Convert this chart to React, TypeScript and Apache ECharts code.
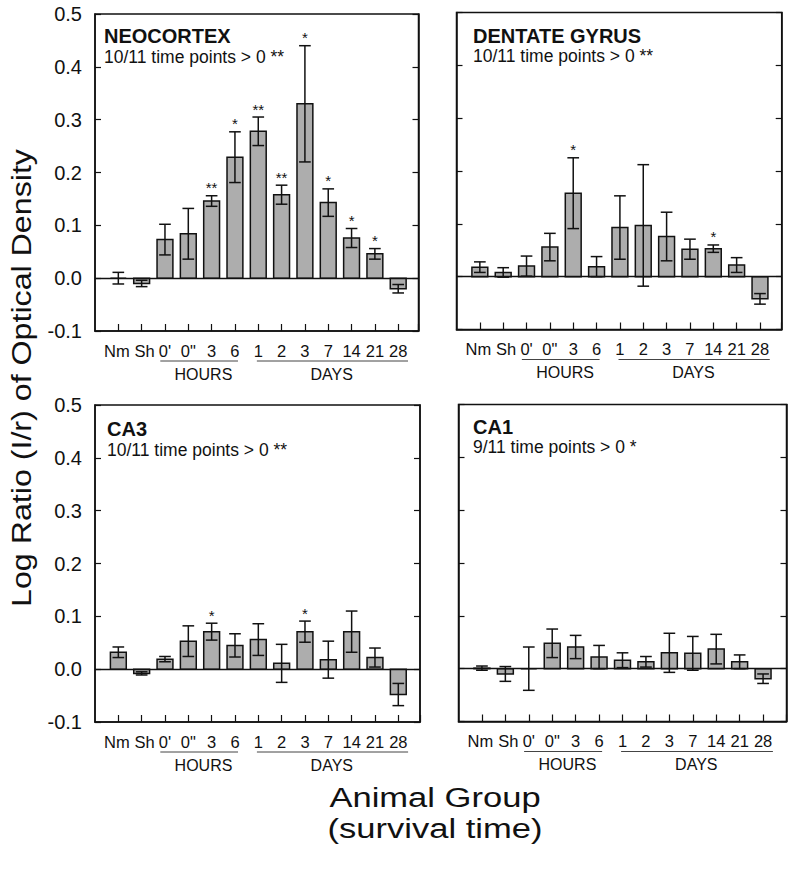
import React, { useEffect, useRef } from "react";
import * as echarts from "echarts";

// ---------------- data ----------------
const categories = ["Nm", "Sh", "0'", "0\"", "3", "6", "1", "2", "3", "7", "14", "21", "28"];

const panelTitles = ["NEOCORTEX", "DENTATE GYRUS", "CA3", "CA1"];
const panelNotes = [
  "10/11 time points > 0 **",
  "10/11 time points > 0 **",
  "10/11 time points > 0 **",
  "9/11 time points > 0 *",
];

const neoMean = [0.0, -0.01, 0.073, 0.084, 0.146, 0.229, 0.278, 0.158, 0.33, 0.143, 0.076, 0.046, -0.02];
const neoErr = [0.011, 0.006, 0.029, 0.048, 0.01, 0.048, 0.027, 0.018, 0.11, 0.026, 0.018, 0.01, 0.008];
const neoSig = ["", "", "", "", "**", "*", "**", "**", "*", "*", "*", "*", ""];

const dgMean = [0.018, 0.008, 0.02, 0.056, 0.158, 0.019, 0.093, 0.097, 0.076, 0.052, 0.053, 0.022, -0.042];
const dgErr = [0.01, 0.009, 0.019, 0.026, 0.067, 0.019, 0.06, 0.115, 0.046, 0.019, 0.007, 0.014, 0.01];
const dgSig = ["", "", "", "", "*", "", "", "", "", "", "*", "", ""];

const ca3Mean = [0.032, -0.008, 0.019, 0.053, 0.071, 0.045, 0.056, 0.011, 0.071, 0.018, 0.071, 0.022, -0.048];
const ca3Err = [0.01, 0.003, 0.005, 0.029, 0.016, 0.022, 0.03, 0.036, 0.02, 0.035, 0.039, 0.018, 0.021];
const ca3Sig = ["", "", "", "", "*", "", "", "", "*", "", "", "", ""];

const ca1Mean = [0.001, -0.01, 0.0, 0.048, 0.041, 0.022, 0.016, 0.013, 0.03, 0.029, 0.037, 0.013, -0.019];
const ca1Err = [0.004, 0.014, 0.041, 0.027, 0.022, 0.022, 0.014, 0.01, 0.037, 0.032, 0.028, 0.013, 0.009];
const ca1Sig = ["", "", "", "", "", "", "", "", "", "", "", "", ""];

const yMin = -0.1;
const yMax = 0.5;
const yStep = 0.1;

const timeGroups = [
  { name: "HOURS", lineFrom: 2.8, lineTo: 6.13, labelAt: 4.65 },
  { name: "DAYS", lineFrom: 6.94, lineTo: 13.42, labelAt: 10.15 },
];

// ---------------- layout ----------------
const FONT = "'Liberation Sans', Arial, Helvetica, sans-serif";
const panels = [
  { mean: neoMean, err: neoErr, sig: neoSig, left: 95, top: 14, width: 323.5, xMax: 13.87, labels: true, tx: 104, ty: 36, sy: 57 },
  { mean: dgMean, err: dgErr, sig: dgSig, left: 456.5, top: 12.5, width: 325.2, xMax: 13.93, labels: false, tx: 473, ty: 36, sy: 56 },
  { mean: ca3Mean, err: ca3Err, sig: ca3Sig, left: 95, top: 405, width: 325, xMax: 13.93, labels: true, tx: 107, ty: 429, sy: 450 },
  { mean: ca1Mean, err: ca1Err, sig: ca1Sig, left: 458.5, top: 404.5, width: 328, xMax: 14, labels: false, tx: 473, ty: 427, sy: 447 },
];
const GRID_H = 317;
const INK = "#111";

export default function App() {
  const ref = useRef<HTMLDivElement>(null);

  useEffect(() => {
    document.body.style.margin = "0";
    if (!ref.current) return;
    const chart = echarts.init(ref.current, null, { renderer: "svg" });

    const grid = panels.map((p) => ({
      left: p.left,
      top: p.top,
      width: p.width,
      height: GRID_H,
      show: true,
      borderColor: INK,
      borderWidth: 1.5,
      backgroundColor: "transparent",
    }));

    const xAxis = panels.map((p, i) => ({
      type: "value",
      gridIndex: i,
      min: 0,
      max: p.xMax,
      interval: 1,
      splitLine: { show: false },
      axisLine: { show: true, onZero: false, lineStyle: { color: INK, width: 1.5 } },
      axisTick: { show: true, inside: true, length: 7, lineStyle: { color: INK, width: 1.2 } },
      axisLabel: {
        margin: 11,
        fontSize: 16.5,
        color: INK,
        fontFamily: FONT,
        showMinLabel: false,
        rich: {
          l: { fontSize: 16.5, fontFamily: FONT, color: INK, padding: [0, 3, 0, 0] },
          r: { fontSize: 16.5, fontFamily: FONT, color: INK, padding: [0, 0, 0, 6] },
        },
        formatter: (v: number) => {
          const r = Math.round(v);
          if (Math.abs(v - r) > 1e-6 || r < 1 || r > categories.length) return "";
          const s = categories[r - 1];
          if (r === 1) return "{l|" + s + "}";
          if (r === 2) return "{r|" + s + "}";
          return s;
        },
      },
    }));

    const yAxis: any[] = [];
    panels.forEach((p, i) => {
      ["left", "right"].forEach((pos) => {
        yAxis.push({
          type: "value",
          gridIndex: i,
          position: pos,
          min: yMin,
          max: yMax,
          interval: yStep,
          splitLine: { show: false },
          axisLine: { show: true, onZero: false, lineStyle: { color: INK, width: 1.5 } },
          axisTick: { show: true, inside: true, length: 6, lineStyle: { color: INK, width: 1.2 } },
          axisLabel: {
            show: pos === "left" && p.labels,
            margin: 13,
            fontSize: 20,
            color: INK,
            fontFamily: FONT,
            formatter: (v: number) => v.toFixed(1),
          },
        });
      });
    });

    const series = panels.map((p, i) => ({
      type: "custom",
      xAxisIndex: i,
      yAxisIndex: i * 2,
      data: p.mean.map((m, k) => [k + 1, m, p.err[k]]),
      renderItem: (params: any, api: any) => {
        const x = api.value(0);
        const v = api.value(1);
        const e = api.value(2);
        const z = api.coord([x, 0]);
        const t = api.coord([x, v]);
        const hi = api.coord([x, v + e]);
        const lo = api.coord([x, v - e]);
        const w = api.size([0.68, 0])[0];
        const cw = api.size([0.25, 0])[0];
        const sig = p.sig[params.dataIndex];
        const children: any[] = [
          {
            type: "rect",
            shape: { x: z[0] - w / 2, y: Math.min(z[1], t[1]), width: w, height: Math.abs(t[1] - z[1]) },
            style: { fill: "#adadad", stroke: INK, lineWidth: 1.5 },
          },
          { type: "line", shape: { x1: hi[0], y1: hi[1], x2: lo[0], y2: lo[1] }, style: { stroke: INK, lineWidth: 1.5 } },
          { type: "line", shape: { x1: hi[0] - cw, y1: hi[1], x2: hi[0] + cw, y2: hi[1] }, style: { stroke: INK, lineWidth: 1.5 } },
          { type: "line", shape: { x1: lo[0] - cw, y1: lo[1], x2: lo[0] + cw, y2: lo[1] }, style: { stroke: INK, lineWidth: 1.5 } },
        ];
        if (sig) {
          children.push({
            type: "text",
            style: {
              text: sig,
              x: hi[0],
              y: hi[1] - 8,
              align: "center",
              verticalAlign: "middle",
              fontSize: 15,
              fontFamily: FONT,
              fill: INK,
            },
          });
        }
        return { type: "group", children };
      },
      markLine: {
        silent: true,
        symbol: "none",
        label: { show: false },
        lineStyle: { color: INK, width: 1.3, type: "solid" },
        data: [{ yAxis: 0 }],
      },
    }));

    chart.setOption({
      animation: false,
      backgroundColor: "#fff",
      grid,
      xAxis,
      yAxis,
      series,
    });

    const graphic: any[] = [];
    panels.forEach((p, i) => {
      graphic.push({
        type: "text",
        x: p.tx,
        y: p.ty,
        style: { text: panelTitles[i], fontSize: 20, fontWeight: "bold", fontFamily: FONT, fill: INK, align: "left", verticalAlign: "middle" },
      });
      graphic.push({
        type: "text",
        x: p.tx,
        y: p.sy,
        style: { text: panelNotes[i], fontSize: 17.5, fontFamily: FONT, fill: INK, align: "left", verticalAlign: "middle" },
      });
      const bottom = (chart.convertToPixel({ gridIndex: i }, [0, yMin]) as number[])[1];
      timeGroups.forEach((g) => {
        const a = (chart.convertToPixel({ gridIndex: i }, [g.lineFrom, yMin]) as number[])[0];
        const b = (chart.convertToPixel({ gridIndex: i }, [g.lineTo, yMin]) as number[])[0];
        const c = (chart.convertToPixel({ gridIndex: i }, [g.labelAt, yMin]) as number[])[0];
        graphic.push({
          type: "line",
          shape: { x1: a, y1: bottom + 30, x2: b, y2: bottom + 30 },
          style: { stroke: "#444", lineWidth: 1 },
        });
        graphic.push({
          type: "text",
          x: c,
          y: bottom + 43,
          style: { text: g.name, fontSize: 16, fontFamily: FONT, fill: INK, align: "center", verticalAlign: "middle" },
        });
      });
    });

    graphic.push({
      type: "text",
      x: 21,
      y: 378,
      rotation: Math.PI / 2,
      scaleX: 1.15,
      style: { text: "Log Ratio (I/r) of Optical Density", fontSize: 28, fontFamily: FONT, fill: INK, align: "center", verticalAlign: "middle" },
    });
    graphic.push({
      type: "text",
      x: 435,
      y: 798,
      scaleX: 1.28,
      style: { text: "Animal Group", fontSize: 27, fontFamily: FONT, fill: INK, align: "center", verticalAlign: "middle" },
    });
    graphic.push({
      type: "text",
      x: 435,
      y: 829,
      scaleX: 1.28,
      style: { text: "(survival time)", fontSize: 27, fontFamily: FONT, fill: INK, align: "center", verticalAlign: "middle" },
    });

    chart.setOption({ graphic });

    return () => chart.dispose();
  }, []);

  return <div ref={ref} style={{ width: 800, height: 882 }} />;
}
